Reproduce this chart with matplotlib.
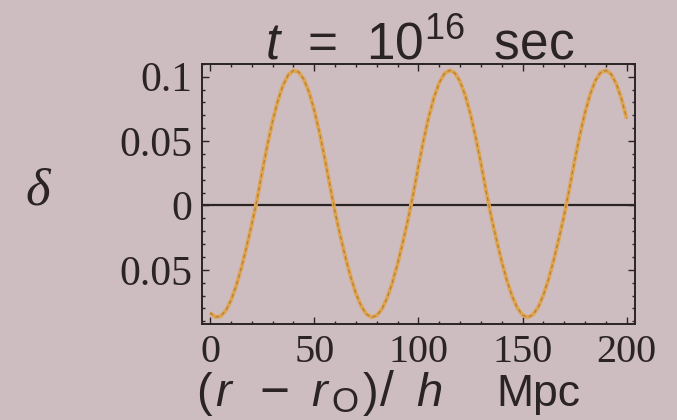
import matplotlib
matplotlib.use("Agg")
import matplotlib.pyplot as plt
from matplotlib.ticker import MultipleLocator

# density contrast profile at t = 1e16 s
r_mpc = [0, 2.5, 5, 7.5, 10, 12.5, 15, 17.5, 20, 22.5, 25, 27.5, 30, 32.5, 35, 37.5,
         40, 42.5, 45, 47.5, 50, 52.5, 55, 57.5, 60, 62.5, 65, 67.5, 70, 72.5, 75,
         77.5, 80, 82.5, 85, 87.5, 90, 92.5, 95, 97.5, 100, 102.5, 105, 107.5, 110,
         112.5, 115, 117.5, 120, 122.5, 125, 127.5, 130, 132.5, 135, 137.5, 140,
         142.5, 145, 147.5, 150, 152.5, 155, 157.5, 160, 162.5, 165, 167.5, 170,
         172.5, 175, 177.5, 180, 182.5, 185, 187.5, 190, 192.5, 195, 197.5, 200]
delta = [-0.0834, -0.0867, -0.0862, -0.0819, -0.0739, -0.0626, -0.0486, -0.0324,
         -0.0148, 0.0042, 0.0261, 0.0468, 0.0654, 0.0811, 0.0933, 0.1013, 0.1048,
         0.1037, 0.0980, 0.0880, 0.0740, 0.0568, 0.0370, 0.0157, -0.0053, -0.0234,
         -0.0404, -0.0556, -0.0684, -0.0781, -0.0844, -0.0869, -0.0856, -0.0805,
         -0.0719, -0.0600, -0.0455, -0.0290, -0.0111, 0.0086, 0.0303, 0.0507,
         0.0689, 0.0839, 0.0953, 0.1024, 0.1050, 0.1029, 0.0963, 0.0854, 0.0708,
         0.0530, 0.0328, 0.0112, -0.0090, -0.0269, -0.0436, -0.0584, -0.0706,
         -0.0797, -0.0852, -0.0870, -0.0849, -0.0791, -0.0697, -0.0573, -0.0423,
         -0.0254, -0.0075, 0.0131, 0.0346, 0.0546, 0.0721, 0.0865, 0.0971, 0.1033,
         0.1049, 0.1020, 0.0945, 0.0828, 0.0674]

x_ticks = [0, 50, 100, 150, 200]
x_tick_labels = ["0", "50", "100", "150", "200"]
y_ticks = [-0.05, 0, 0.05, 0.1]
y_tick_labels = ["0.05", "0", "0.05", "0.1"]

title_text = r"$t$  =  10$^{16}$  sec"
ylabel_text = "δ"
# axis label "(r − r_O)/h Mpc", set piece by piece: (text, left px, baseline px, size, italic)
xlabel_parts = [
    ("(", 196, 406, 34, False),
    ("r", 215, 406, 34, True),
    ("\u2212", 259, 407, 37, False),
    ("r", 311, 406, 34, True),
    ("O", 331, 412, 25, False),
    (")", 363, 406, 34, False),
    ("/", 380, 406, 36, False),
    ("h", 416, 406, 34, True),
    ("Mpc", 496, 406, 32, False),
]

W, H = 677, 420
bg = "#cdbdc0"
ink = "#2b2424"

plt.rcParams["mathtext.fontset"] = "custom"
plt.rcParams["mathtext.rm"] = "Liberation Sans"
plt.rcParams["mathtext.it"] = "Liberation Sans:italic"

fig = plt.figure(figsize=(W / 100, H / 100), dpi=100, facecolor=bg)
ax = fig.add_axes([0.298, 0.229, 0.640, 0.619], facecolor=bg)

ax.axhline(0, color=ink, lw=1.6, zorder=1)
ax.plot(r_mpc, delta, color="#e0a552", lw=2.8, zorder=2, solid_capstyle="butt")
ax.plot(r_mpc, delta, color="#b0803c", lw=0.9, ls=(0, (3, 2.5)), zorder=3)

ax.set_xlim(-4, 204)
ax.set_ylim(-0.092, 0.110)

ax.set_xticks(x_ticks)
ax.set_xticklabels(x_tick_labels)
ax.set_yticks(y_ticks)
ax.set_yticklabels(y_tick_labels)
ax.xaxis.set_minor_locator(MultipleLocator(10))
ax.yaxis.set_minor_locator(MultipleLocator(0.01))

ax.tick_params(which="both", direction="in", top=True, right=True,
               colors=ink, labelcolor=ink, width=1.0)
ax.tick_params(which="major", length=5, pad=7)
ax.tick_params(which="minor", length=2.5)
for lab in ax.get_xticklabels():
    lab.set_fontfamily("Liberation Serif")
    lab.set_fontsize(29)
for lab in ax.get_yticklabels():
    lab.set_fontfamily("Liberation Serif")
    lab.set_fontsize(30)

for sp in ax.spines.values():
    sp.set_color(ink)
    sp.set_linewidth(1.4)

fig.text(420 / W, 1 - 59 / H, title_text, fontfamily="Liberation Sans",
         fontsize=37, color=ink, ha="center", va="baseline")

for txt, px, py, size, italic in xlabel_parts:
    fig.text(px / W, 1 - py / H, txt, fontfamily="Liberation Sans",
             style="italic" if italic else "normal", fontsize=size,
             color=ink, ha="left", va="baseline")

fig.text(38 / W, 1 - 192 / H, ylabel_text, fontfamily="Liberation Serif",
         style="italic", fontsize=38, color=ink, ha="center", va="center")

fig.savefig("out.png", dpi=100, facecolor=bg)
